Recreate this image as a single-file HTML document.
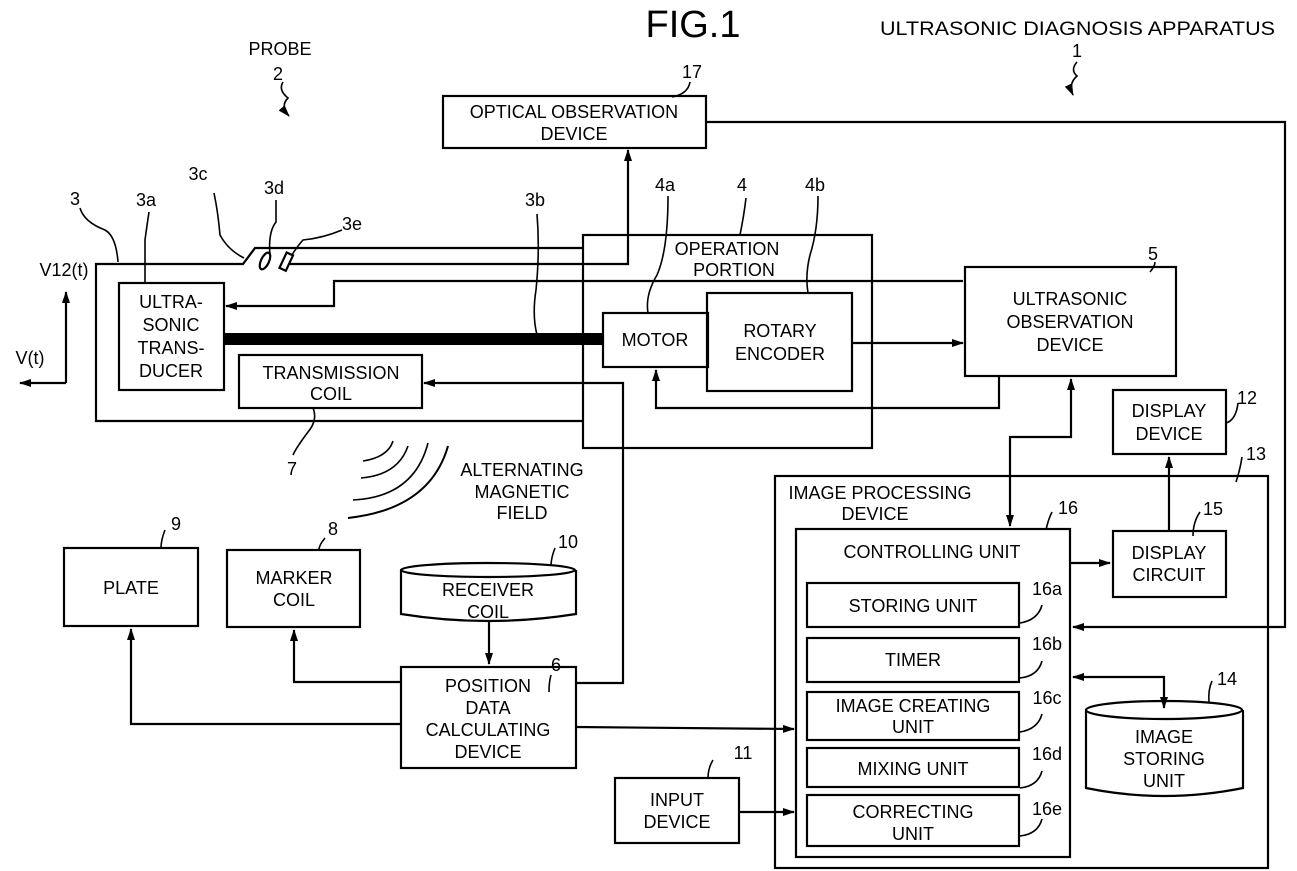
<!DOCTYPE html>
<html><head><meta charset="utf-8"><style>
html,body{margin:0;padding:0;background:#fff;}
svg{display:block;}
text{font-family:"Liberation Sans",Arial,sans-serif;fill:#000;}
</style></head><body>
<svg width="1297" height="871" viewBox="0 0 1297 871" xmlns="http://www.w3.org/2000/svg">
<defs>
<marker id="a" markerWidth="12" markerHeight="8" refX="11" refY="4" orient="auto" markerUnits="userSpaceOnUse"><path d="M0,0 L12,4 L0,8 z" fill="#000"/></marker>
<marker id="b" markerWidth="12" markerHeight="8" refX="1" refY="4" orient="auto" markerUnits="userSpaceOnUse"><path d="M12,0 L0,4 L12,8 z" fill="#000"/></marker>
</defs>
<g fill="none" stroke="#000" stroke-width="2.2">
<path d="M584,421 L96,421 L96,264 L243,264 L255,248 L584,248"/>
<path d="M290,264 L628,264 L628,150" marker-end="url(#a)"/>
<ellipse cx="265" cy="261" rx="4" ry="9" transform="rotate(25 265 261)"/>
<rect x="283" y="253" width="7" height="17" transform="rotate(25 286 261)"/>
<rect x="119" y="283" width="105" height="107"/>
<rect x="239" y="355" width="183" height="53"/>
<path d="M963,281 L334,281 L334,306 L226,306" marker-end="url(#a)"/>
<line x1="224" y1="339" x2="603" y2="339" stroke-width="12"/>
<path d="M576,683 L623,683 L623,383 L424,383" marker-end="url(#a)"/>
<rect x="583" y="235" width="289" height="213"/>
<rect x="603" y="313" width="105" height="54"/>
<rect x="707" y="293" width="145" height="98"/>
<line x1="852" y1="343" x2="963" y2="343" marker-end="url(#a)"/>
<path d="M999,376 L999,408 L656,408 L656,370" marker-end="url(#a)"/>
<rect x="443" y="96" width="263" height="52"/>
<path d="M706,122 L1285,122 L1285,627 L1073,627" marker-end="url(#a)"/>
<rect x="965" y="267" width="211" height="109"/>
<path d="M1010,526 L1010,437 L1071,437 L1071,379" marker-start="url(#b)" marker-end="url(#a)"/>
<rect x="1113" y="390" width="113" height="64"/>
<rect x="775" y="476" width="493" height="392"/>
<rect x="796" y="529" width="274" height="328"/>
<rect x="1113" y="531" width="113" height="66"/>
<line x1="1070" y1="563" x2="1110" y2="563" marker-end="url(#a)"/>
<line x1="1169" y1="531" x2="1169" y2="457" marker-end="url(#a)"/>
<rect x="807" y="583" width="212" height="44"/>
<rect x="807" y="638" width="212" height="44"/>
<rect x="807" y="692" width="212" height="48"/>
<rect x="807" y="748" width="212" height="39"/>
<rect x="807" y="795" width="212" height="51"/>
<path d="M1073,677 L1164,677 L1164,708" marker-start="url(#b)" marker-end="url(#a)"/>
<path d="M1086,710 L1086,788 Q1164,804 1243,788 L1243,710"/>
<ellipse cx="1164" cy="710" rx="78" ry="9"/>
<rect x="64" y="548" width="134" height="78"/>
<rect x="227" y="550" width="133" height="77"/>
<path d="M401,570 L401,614 Q488,628 576,614 L576,570"/>
<ellipse cx="488" cy="570" rx="87" ry="7"/>
<line x1="489" y1="622" x2="489" y2="664" marker-end="url(#a)"/>
<rect x="401" y="667" width="175" height="101"/>
<path d="M401,682 L294,682 L294,630" marker-end="url(#a)"/>
<path d="M401,724 L131,724 L131,629" marker-end="url(#a)"/>
<path d="M576,727 L794,729" marker-end="url(#a)"/>
<rect x="615" y="778" width="124" height="65"/>
<line x1="739" y1="812" x2="794" y2="812" marker-end="url(#a)"/>
<path d="M66,383 L66,292" marker-end="url(#a)"/>
<path d="M66,383 L20,383" marker-end="url(#a)"/>
</g>
<g fill="none" stroke="#000" stroke-width="1.6">
<path d="M393,441 Q388,457 363,461"/>
<path d="M408,446 Q398,475 361,478"/>
<path d="M428,443 Q414,497 353,500"/>
<path d="M448,446 Q430,509 348,518" stroke-width="2"/>
<path d="M80,208 Q84,222 105,230 Q116,236 118,262"/>
<path d="M149,212 Q147,225 145,240 L145,283"/>
<path d="M214,193 Q218,212 220,235 Q228,250 244,258"/>
<path d="M276,200 L276,222 Q268,232 270,255"/>
<path d="M342,230 Q323,238 303,240 Q296,248 292,255"/>
<path d="M537,214 Q540,250 536,290 Q532,315 537,335"/>
<path d="M668,196 Q668,250 657,275 Q645,295 648,313"/>
<path d="M746,198 Q744,215 740,235"/>
<path d="M818,196 Q818,230 810,255 Q805,275 808,293"/>
<path d="M1155,262 Q1155,266 1150,272"/>
<path d="M690,82 Q688,94 672,97"/>
<path d="M313,408 Q318,420 308,432 Q296,448 293,455"/>
<path d="M1238,403 Q1236,420 1226,423"/>
<path d="M1242,457 Q1240,470 1236,482"/>
<path d="M1052,512 Q1048,520 1046,530"/>
<path d="M1200,512 Q1193,522 1193,536"/>
<path d="M1042,605 Q1038,620 1020,623"/>
<path d="M1042,661 Q1038,676 1020,678"/>
<path d="M1042,714 Q1038,729 1020,732"/>
<path d="M1042,771 Q1038,786 1020,788"/>
<path d="M1042,819 Q1038,834 1020,836"/>
<path d="M1212,681 Q1208,690 1209,702"/>
<path d="M555,548 Q551,558 551,566"/>
<path d="M551,675 Q549,682 549,692"/>
<path d="M165,530 Q161,540 161,548"/>
<path d="M325,538 Q319,545 319,550"/>
<path d="M713,760 Q708,768 708,778"/>
<path d="M283,82 Q278,90 288,98 Q280,106 289,116" marker-end="url(#a)"/>
<path d="M1077,62 Q1070,70 1077,76 Q1068,84 1073,95" marker-end="url(#a)"/>
</g>
<text x="693" y="37" font-size="38" text-anchor="middle">FIG.1</text>
<text x="880" y="35" font-size="19" textLength="395" lengthAdjust="spacingAndGlyphs">ULTRASONIC DIAGNOSIS APPARATUS</text>
<text x="1077" y="57" font-size="18" text-anchor="middle">1</text>
<text x="280" y="55" font-size="18" text-anchor="middle">PROBE</text>
<text x="278" y="80" font-size="18" text-anchor="middle">2</text>
<g font-size="18" text-anchor="middle">
<text x="574" y="118">OPTICAL OBSERVATION</text>
<text x="574" y="140">DEVICE</text>
<text x="692" y="78">17</text>
<text x="75" y="205">3</text>
<text x="146" y="206">3a</text>
<text x="198" y="180">3c</text>
<text x="274" y="194">3d</text>
<text x="352" y="230">3e</text>
<text x="535" y="206">3b</text>
<text x="665" y="191">4a</text>
<text x="742" y="191">4</text>
<text x="815" y="191">4b</text>
<text x="1153" y="260">5</text>
<text x="64" y="276">V12(t)</text>
<text x="30" y="364">V(t)</text>
<text x="171" y="308">ULTRA-</text>
<text x="171" y="331">SONIC</text>
<text x="171" y="354">TRANS-</text>
<text x="171" y="377">DUCER</text>
<text x="331" y="379">TRANSMISSION</text>
<text x="331" y="400">COIL</text>
<text x="727" y="255">OPERATION</text>
<text x="734" y="276">PORTION</text>
<text x="655" y="346">MOTOR</text>
<text x="780" y="337">ROTARY</text>
<text x="780" y="360">ENCODER</text>
<text x="1070" y="305">ULTRASONIC</text>
<text x="1070" y="328">OBSERVATION</text>
<text x="1070" y="351">DEVICE</text>
<text x="1169" y="417">DISPLAY</text>
<text x="1169" y="440">DEVICE</text>
<text x="1247" y="404">12</text>
<text x="1256" y="460">13</text>
<text x="880" y="499">IMAGE PROCESSING</text>
<text x="875" y="520">DEVICE</text>
<text x="932" y="558">CONTROLLING UNIT</text>
<text x="1068" y="514">16</text>
<text x="1213" y="515">15</text>
<text x="1169" y="559">DISPLAY</text>
<text x="1169" y="581">CIRCUIT</text>
<text x="913" y="612">STORING UNIT</text>
<text x="913" y="666">TIMER</text>
<text x="913" y="712">IMAGE CREATING</text>
<text x="913" y="733">UNIT</text>
<text x="913" y="775">MIXING UNIT</text>
<text x="913" y="818">CORRECTING</text>
<text x="913" y="840">UNIT</text>
<text x="1047" y="595">16a</text>
<text x="1047" y="650">16b</text>
<text x="1047" y="704">16c</text>
<text x="1047" y="760">16d</text>
<text x="1047" y="815">16e</text>
<text x="1164" y="743">IMAGE</text>
<text x="1164" y="765">STORING</text>
<text x="1164" y="787">UNIT</text>
<text x="1227" y="685">14</text>
<text x="522" y="476">ALTERNATING</text>
<text x="522" y="498">MAGNETIC</text>
<text x="522" y="519">FIELD</text>
<text x="292" y="475">7</text>
<text x="176" y="530">9</text>
<text x="333" y="535">8</text>
<text x="568" y="548">10</text>
<text x="556" y="671">6</text>
<text x="743" y="759">11</text>
<text x="131" y="594">PLATE</text>
<text x="294" y="584">MARKER</text>
<text x="294" y="606">COIL</text>
<text x="488" y="596">RECEIVER</text>
<text x="488" y="618">COIL</text>
<text x="488" y="692">POSITION</text>
<text x="488" y="714">DATA</text>
<text x="488" y="736">CALCULATING</text>
<text x="488" y="758">DEVICE</text>
<text x="677" y="806">INPUT</text>
<text x="677" y="828">DEVICE</text>
</g>
</svg>
</body></html>
